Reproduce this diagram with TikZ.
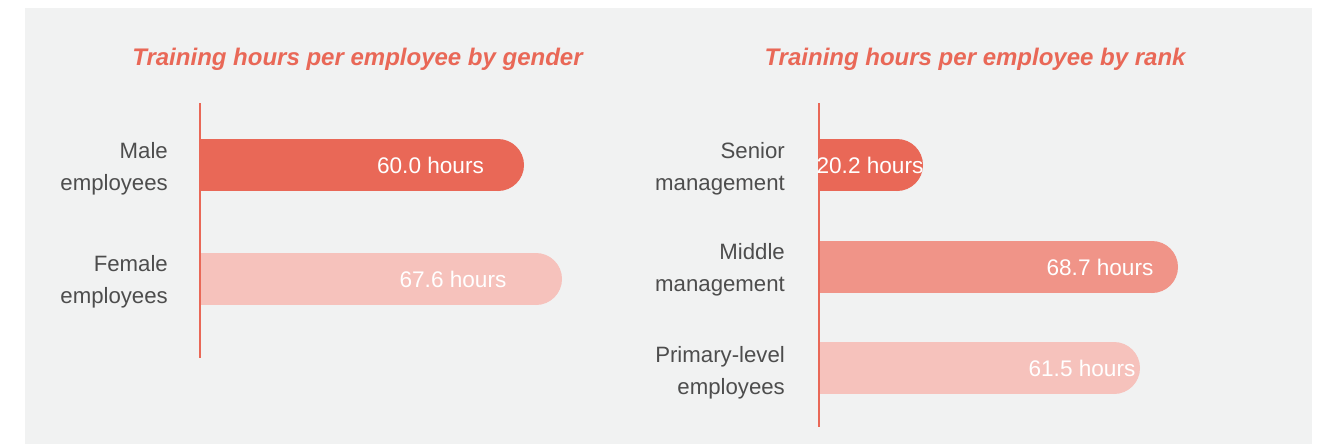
\documentclass[tikz,border=0pt]{standalone}
\usepackage{fontspec}
\setmainfont{Liberation Sans}
\definecolor{panel}{HTML}{F1F2F2}
\definecolor{coral}{HTML}{E96857}
\definecolor{coralmid}{HTML}{F09488}
\definecolor{corallight}{HTML}{F6C2BC}
\definecolor{labelgray}{HTML}{4D4D4D}
\begin{document}
\begin{tikzpicture}[x=1pt,y=-1pt,
  title/.style={font=\fontsize{24}{28}\selectfont\bfseries\itshape, text=coral, inner sep=0pt},
  cat/.style={font=\fontsize{22.2}{32}\selectfont, text=labelgray, align=right, anchor=east, inner sep=0pt},
  val/.style={font=\fontsize{22.6}{26}\selectfont, text=white, inner sep=0pt},
  axis/.style={draw=coral, line width=2pt}]
\useasboundingbox (0,0) rectangle (1322,445);
\fill[white] (0,0) rectangle (1322,445);
\fill[panel] (25,8) rectangle (1312,444);

% left chart
\node[title] (t1) at (357.5,59) {Training hours per employee by gender};
\coordinate (a1top) at (200,103);
\coordinate (a1bot) at (200,358);
\fill[coral] (200,139) rectangle (498,191);
\fill[coral] (498,165) circle[radius=26pt];
\fill[corallight] (200,253) rectangle (536,305);
\fill[corallight] (536,279) circle[radius=26pt];
\draw[axis] (a1top) -- (a1bot);
\node[cat] (lmale) at (168,168.5) {Male\\employees};
\node[cat] (lfemale) at (168,281.5) {Female\\employees};
\node[val] (vmale) at (430.5,165) {60.0 hours};
\node[val] (vfemale) at (453,279) {67.6 hours};

% right chart
\node[title] (t2) at (975,59) {Training hours per employee by rank};
\coordinate (a2top) at (819,103);
\coordinate (a2bot) at (819,427);
\fill[coral] (819,139) rectangle (897,191);
\fill[coral] (897,165) circle[radius=26pt];
\fill[coralmid] (819,241) rectangle (1152,293);
\fill[coralmid] (1152,267) circle[radius=26pt];
\fill[corallight] (819,342) rectangle (1114,394);
\fill[corallight] (1114,368) circle[radius=26pt];
\draw[axis] (a2top) -- (a2bot);
\node[cat] (lsenior) at (785,168.5) {Senior\\management};
\node[cat] (lmiddle) at (785,269.5) {Middle\\management};
\node[cat] (lprimary) at (785,372.5) {Primary-level\\employees};
\node[val] (vsenior) at (870,165) {20.2 hours};
\node[val] (vmiddle) at (1100,267) {68.7 hours};
\node[val] (vprimary) at (1082,368) {61.5 hours};
\end{tikzpicture}
\end{document}
